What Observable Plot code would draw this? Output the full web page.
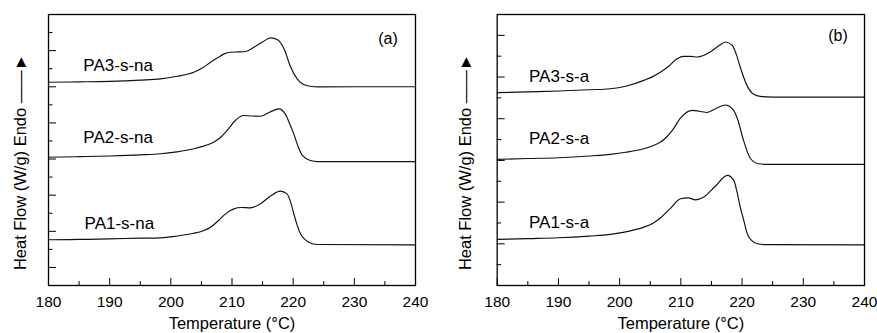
<!DOCTYPE html>
<html>
<head>
<meta charset="utf-8">
<script src="https://cdn.jsdelivr.net/npm/d3@7"></script>
<script src="https://cdn.jsdelivr.net/npm/@observablehq/plot@0.6"></script>
<style>
  html, body { margin: 0; padding: 0; background: white; }
  #wrap { position: relative; width: 877px; height: 333px; overflow: hidden; }
  #left { position: absolute; left: 0; top: 0; }
  #right { position: absolute; left: 440px; top: 0; }
</style>
</head>
<body>
<div id="wrap"><div id="left"></div><div id="right"></div></div>
<script>
// ---- x axis ticks ----
const xMajor = [180, 190, 200, 210, 220, 230, 240];
const xMinor = [185, 195, 205, 215, 225, 235];

// ---- panel (a): non-annealed ----
const pa3snaT = [180, 185, 190, 195, 198.3, 201, 203.75, 205.2, 206.5, 207.7, 208.7, 209.75, 211, 212.2, 213.6, 215, 216.3, 217.4, 218.5, 219.6, 220.65, 221.7, 222.8, 224, 230, 240];
const pa3snaV = [11.25, 11.27, 11.30, 11.37, 11.44, 11.58, 11.80, 12.05, 12.36, 12.62, 12.82, 12.91, 12.93, 12.95, 13.19, 13.48, 13.71, 13.61, 13.10, 12.08, 11.44, 11.12, 11.03, 10.99, 11.00, 11.00];
const pa2snaT = [180, 185, 190, 195, 198.3, 201, 203.75, 205.5, 207.0, 208.2, 209.2, 210.5, 211.9, 213.3, 214.7, 216.2, 217.65, 218.7, 219.5, 220.1, 220.8, 221.5, 222.8, 224, 240];
const pa2snaV = [7.10, 7.13, 7.17, 7.23, 7.29, 7.40, 7.57, 7.73, 7.93, 8.22, 8.58, 9.12, 9.41, 9.38, 9.37, 9.60, 9.78, 9.50, 8.90, 8.39, 7.70, 7.20, 6.92, 6.86, 6.86];
const pa1snaT = [180, 185, 190, 195, 198.3, 201, 203.75, 205.2, 206.5, 207.8, 209, 210.3, 211.5, 213.0, 214.65, 216.3, 217.9, 219.0, 219.6, 220.1, 220.6, 221.2, 222.55, 224, 240];
const pa1snaV = [2.53, 2.55, 2.58, 2.62, 2.64, 2.74, 2.89, 3.02, 3.23, 3.60, 3.98, 4.24, 4.32, 4.30, 4.52, 4.95, 5.22, 5.07, 4.60, 3.97, 3.40, 2.86, 2.40, 2.27, 2.25];

const namesA = ["PA3-s-na", "PA2-s-na", "PA1-s-na"];
const labelTA = [185.7, 185.7, 185.9];
const labelVA = [12.17, 8.19, 3.43];
const yMajorA = [1, 3, 5, 7, 9, 11, 13];
const yMinorA = [2, 4, 6, 8, 10, 12, 14];

// ---- panel (b): annealed ----
const pa3saT = [180, 185, 190, 195, 198.5, 201, 203.95, 205.4, 206.7, 208, 209.4, 210.5, 211.6, 212.7, 214.8, 216.2, 217.3, 218.4, 219.1, 219.7, 220.8, 221.9, 223.0, 225, 240];
const pa3saV = [9.25, 9.29, 9.33, 9.39, 9.44, 9.56, 9.84, 10.02, 10.24, 10.52, 10.88, 10.99, 10.99, 10.96, 11.20, 11.50, 11.68, 11.52, 11.05, 10.48, 9.60, 9.17, 9.07, 9.04, 9.04];
const pa2saT = [180, 185, 190, 195, 198.5, 201, 203.95, 205.4, 206.7, 207.6, 208.6, 210, 211.85, 213, 214.3, 215.8, 217.3, 218.4, 219.3, 220.1, 221.4, 222.7, 224, 240];
const pa2saV = [6.05, 6.09, 6.13, 6.21, 6.29, 6.39, 6.56, 6.70, 6.88, 7.10, 7.44, 8.05, 8.40, 8.36, 8.30, 8.50, 8.66, 8.48, 7.95, 7.10, 6.08, 5.84, 5.81, 5.81];
const pa1saT = [180, 185, 190, 195, 198.5, 201, 203.95, 205.4, 206.7, 208.3, 209.95, 211.2, 212.4, 213.75, 215.6, 217.6, 218.65, 219.2, 219.7, 220.3, 220.85, 221.6, 222.5, 224, 240];
const pa1saV = [2.21, 2.25, 2.29, 2.37, 2.45, 2.57, 2.80, 2.98, 3.25, 3.70, 4.16, 4.20, 4.11, 4.24, 4.75, 5.28, 5.04, 4.45, 3.76, 3.10, 2.48, 2.15, 2.00, 1.96, 1.95];

const namesB = ["PA3-s-a", "PA2-s-a", "PA1-s-a"];
const labelTB = [185.2, 185.2, 185.2];
const labelVB = [10.03, 7.04, 3.04];
const yMajorB = [2, 4, 6, 8, 10, 12];
const yMinorB = [1, 3, 5, 7, 9, 11];

const xTitle = "Temperature (°C)";
const yTitle = "Heat Flow (W/g) Endo ——►";

function toRows(names, Ts, Vs) {
  const rows = [];
  names.forEach((n, i) => Ts[i].forEach((t, j) => rows.push({name: n, t, v: Vs[i][j]})));
  return rows;
}

const FONT = "'Liberation Sans', Arial, Helvetica, sans-serif";

function panel(o) {
  const rows = toRows(o.names, o.Ts, o.Vs);
  const labels = o.names.map((n, i) => ({name: n, t: o.labelT[i], v: o.labelV[i]}));
  return Plot.plot({
    width: o.width, height: 333,
    marginLeft: o.marginLeft, marginRight: o.marginRight, marginTop: 14, marginBottom: 48,
    x: {domain: [180, 240]},
    y: {domain: [0, o.yMax]},
    style: {fontFamily: FONT, fontSize: "15px", color: "black", background: "white", overflow: "hidden"},
    marks: [
      Plot.axisX({ticks: xMajor, tickSize: -7, tickPadding: 17, tickFormat: d => String(d), label: null, fontSize: 15.5, stroke: "black"}),
      Plot.axisX({ticks: xMinor, tickSize: -4, tickFormat: () => "", label: null, stroke: "black"}),
      Plot.axisY({ticks: o.yMajor, tickSize: -8, tickFormat: () => "", label: null, stroke: "black"}),
      Plot.axisY({ticks: o.yMinor, tickSize: -4.5, tickFormat: () => "", label: null, stroke: "black"}),
      Plot.line(rows, {x: "t", y: "v", z: "name", stroke: "#111", strokeWidth: 1.15, curve: "monotone-x"}),
      Plot.text(labels, {x: "t", y: "v", text: "name", textAnchor: "start", fontSize: 17, fill: "black"}),
      Plot.text([o.tag], {frameAnchor: "top-right", textAnchor: "middle", lineAnchor: "middle", dx: o.tagDx, dy: o.tagDy, fontSize: 16, fill: "black"}),
      Plot.frame({stroke: "black", strokeWidth: 1.3}),
      Plot.text([xTitle], {frameAnchor: "bottom", textAnchor: "middle", lineAnchor: "middle", dy: 38, fontSize: 16.5, fill: "black"}),
      Plot.text([yTitle], {frameAnchor: "left", rotate: -90, textAnchor: "middle", lineAnchor: "middle", dx: o.titleDx, dy: 12, fontSize: 16.5, fill: "black"})
    ]
  });
}

document.getElementById("left").appendChild(panel({
  width: 440, marginLeft: 48, marginRight: 25, yMax: 15,
  names: namesA, Ts: [pa3snaT, pa2snaT, pa1snaT], Vs: [pa3snaV, pa2snaV, pa1snaV],
  labelT: labelTA, labelV: labelVA, yMajor: yMajorA, yMinor: yMinorA,
  tag: "(a)", tagDx: -27.5, tagDy: 24, titleDx: -28
}));
document.getElementById("right").appendChild(panel({
  width: 437, marginLeft: 56.7, marginRight: 13, yMax: 13,
  names: namesB, Ts: [pa3saT, pa2saT, pa1saT], Vs: [pa3saV, pa2saV, pa1saV],
  labelT: labelTB, labelV: labelVB, yMajor: yMajorB, yMinor: yMinorB,
  tag: "(b)", tagDx: -26.5, tagDy: 21, titleDx: -31.7
}));
</script>
</body>
</html>
